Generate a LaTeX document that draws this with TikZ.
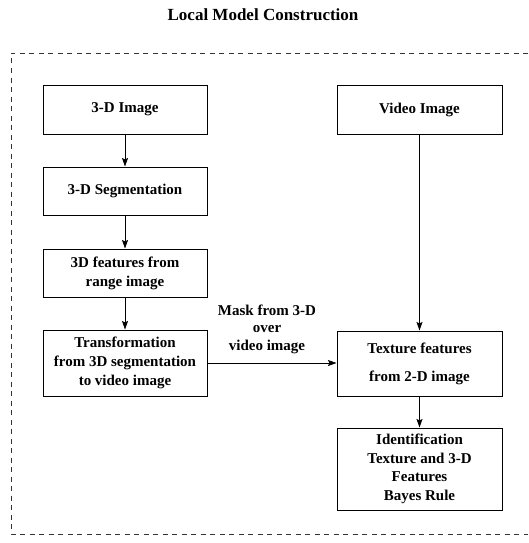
\documentclass[tikz,border=0pt]{standalone}
\usepackage{fontspec}
\setmainfont{Liberation Serif}
\usetikzlibrary{arrows.meta}
\begin{document}
\begin{tikzpicture}[x=1pt,y=1pt,
  blk/.style={draw=black, line width=1pt, align=center, inner sep=0pt,
    font=\fontsize{15}{19}\selectfont\bfseries},
  leftblk/.style={blk, minimum width=164pt},
  rightblk/.style={blk, minimum width=165pt},
  flow/.style={draw=black, line width=0.8pt, -{Stealth[length=8.5pt,width=6pt,inset=1.5pt]}},
  frame/.style={draw=black!80, line width=0.8pt, dash pattern=on 5pt off 4.5pt}
]
\useasboundingbox (0,0) rectangle (528,-543);

% title
\node[font=\fontsize{17}{20}\selectfont\bfseries] (title) at (263,-15) {Local Model Construction};

% dashed enclosure (open on the right)
\draw[frame] (528,-53) -- (11,-53) -- (11,-534) -- (528,-534);

% left column
\node[leftblk, minimum height=49pt] (img3d) at (125,-109.5) {3-D Image};
\node[leftblk, minimum height=48pt] (seg3d) at (125,-191) {3-D Segmentation};
\node[leftblk, minimum height=48pt] (feat3d) at (125,-273) {3D features from\\range image};
\node[leftblk, minimum height=66pt] (trans) at (125,-363) {Transformation\\from 3D segmentation\\to video image};

% right column
\node[rightblk, minimum height=49pt] (video) at (419.5,-109.5) {Video Image};
\node[rightblk, minimum height=65pt] (texture) at (419.5,-363.5) {Texture features\\[9pt]from 2-D image};
\node[rightblk, minimum height=82pt, font=\fontsize{15}{18.5}\selectfont\bfseries] (ident) at (419.5,-469) {Identification\\Texture and 3-D\\Features\\Bayes Rule};

% label on the horizontal link
\node[align=center, inner sep=0pt, font=\fontsize{15}{17.5}\selectfont\bfseries] (mask) at (267,-329) {Mask from 3-D\\over\\video image};

% connectors
\draw[flow] (img3d) -- (seg3d);
\draw[flow] (seg3d) -- (feat3d);
\draw[flow] (feat3d) -- (trans);
\draw[flow] (trans.east) -- (texture.west |- trans.east);
\draw[flow] (video) -- (texture);
\draw[flow] (texture) -- (ident);
\end{tikzpicture}
\end{document}
